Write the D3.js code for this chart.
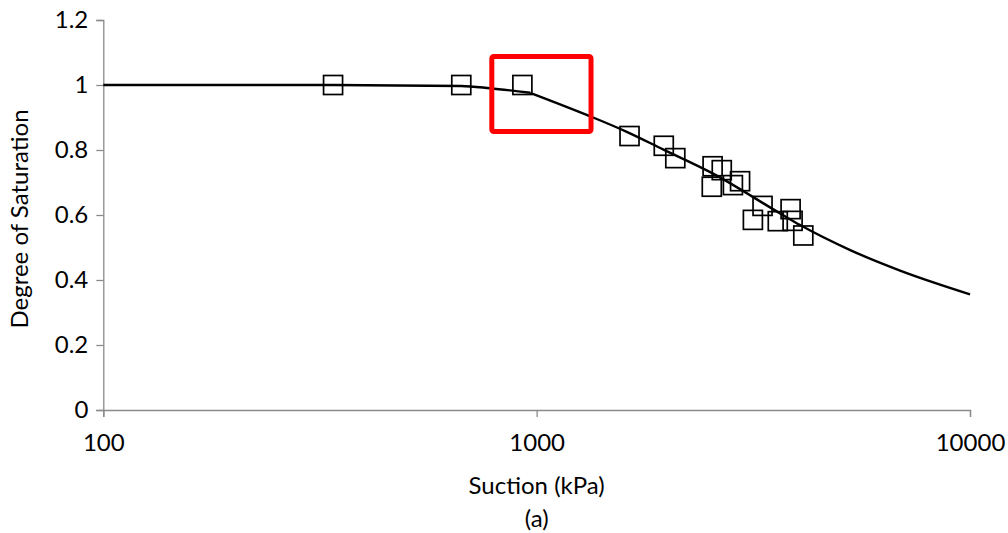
<!DOCTYPE html>
<html>
<head>
<meta charset="utf-8">
<script src="https://cdn.jsdelivr.net/npm/d3@7/dist/d3.min.js"></script>
<style>
  html, body { margin: 0; padding: 0; background: #fff; }
  svg { display: block; }
  text { font-family: Lato, "Open Sans", sans-serif; fill: #000; }
</style>
</head>
<body>
<svg id="chart" width="1008" height="533"></svg>
<script>
// Measured points: suction (kPa) and degree of saturation
const suction    = [339, 670, 927, 1638, 1965, 2089, 2547, 2674, 2947, 2536, 2837, 3321, 3155, 3855, 3601, 3896, 4124];
const saturation = [1.0, 1.0, 1.0, 0.843, 0.813, 0.775, 0.750, 0.738, 0.704, 0.687, 0.692, 0.628, 0.585, 0.618, 0.581, 0.582, 0.537];

// Fitted retention curve, before and after the air-entry break
const fitSuctionLow  = [100, 339, 670, 780, 966];
const fitSatLow      = [1.0, 1.0, 0.997, 0.990, 0.976];
const fitSuctionHigh = [966, 1305, 1614, 1957, 2547, 3645, 4055, 5291, 6896, 10000];
const fitSatHigh     = [0.976, 0.908, 0.856, 0.802, 0.728, 0.605, 0.569, 0.492, 0.429, 0.356];

// Highlight box around the break point (suction range, saturation range)
const boxSuction = [788, 1335];
const boxSat     = [0.857, 1.0877];

// Axis ticks
const xTicks = [100, 1000, 10000];
const xTickLabels = ["100", "1000", "10000"];
const yTicks = [0, 0.2, 0.4, 0.6, 0.8, 1.0, 1.2];
const yTickLabels = ["0", "0.2", "0.4", "0.6", "0.8", "1", "1.2"];

const xTitle = "Suction (kPa)";
const yTitle = "Degree of Saturation";
const caption = "(a)";

const svg = d3.select("#chart");

const x = d3.scaleLog().domain([100, 10000]).range([103.3, 970]);
const y = d3.scaleLinear().domain([0, 1.2]).range([410, 20]);

const axisColor = "#8a8a8a";
const fontSize = 24;

// Y axis
const yAxis = svg.append("g")
  .attr("transform", `translate(${x(100)},0)`)
  .call(d3.axisLeft(y).tickValues(yTicks)
    .tickFormat((d, i) => yTickLabels[i]).tickSize(7).tickPadding(8));
yAxis.select(".domain").attr("stroke", axisColor).attr("stroke-width", 1.3);
yAxis.selectAll(".tick line").attr("stroke", axisColor).attr("stroke-width", 1.3);
yAxis.selectAll(".tick text").attr("font-size", fontSize)
  .attr("font-family", "Lato, sans-serif").attr("fill", "#000");

// X axis
const xAxis = svg.append("g")
  .attr("transform", `translate(0,${y(0)})`)
  .call(d3.axisBottom(x).tickValues(xTicks)
    .tickFormat((d, i) => xTickLabels[i]).tickSize(7).tickPadding(17));
xAxis.select(".domain").attr("stroke", axisColor).attr("stroke-width", 1.3);
xAxis.selectAll(".tick line").attr("stroke", axisColor).attr("stroke-width", 1.3);
xAxis.selectAll(".tick text").attr("font-size", fontSize)
  .attr("font-family", "Lato, sans-serif").attr("fill", "#000");

// Axis titles and caption
svg.append("text")
  .attr("x", (x(100) + x(10000)) / 2).attr("y", 494)
  .attr("text-anchor", "middle").attr("font-size", fontSize)
  .text(xTitle);
svg.append("text")
  .attr("x", (x(100) + x(10000)) / 2).attr("y", 527)
  .attr("text-anchor", "middle").attr("font-size", fontSize)
  .text(caption);
svg.append("text")
  .attr("transform", `translate(28,219) rotate(-90)`)
  .attr("text-anchor", "middle").attr("font-size", fontSize)
  .text(yTitle);

// Fitted curve
const line = d3.line()
  .x(d => x(d[0])).y(d => y(d[1]))
  .curve(d3.curveMonotoneX);
const segments = [
  d3.zip(fitSuctionLow, fitSatLow),
  d3.zip(fitSuctionHigh, fitSatHigh)
];
svg.append("g").selectAll("path")
  .data(segments)
  .join("path")
  .attr("d", line)
  .attr("fill", "none")
  .attr("stroke", "#000")
  .attr("stroke-width", 2.4)
  .attr("stroke-linejoin", "round");

// Measured points as open squares
const size = 19;
svg.append("g").selectAll("rect")
  .data(d3.zip(suction, saturation))
  .join("rect")
  .attr("x", d => x(d[0]) - size / 2)
  .attr("y", d => y(d[1]) - size / 2)
  .attr("width", size).attr("height", size)
  .attr("fill", "none")
  .attr("stroke", "#000")
  .attr("stroke-width", 1.7);

// Highlight box
svg.append("rect")
  .attr("x", x(boxSuction[0]))
  .attr("y", y(boxSat[1]))
  .attr("width", x(boxSuction[1]) - x(boxSuction[0]))
  .attr("height", y(boxSat[0]) - y(boxSat[1]))
  .attr("rx", 2)
  .attr("fill", "none")
  .attr("stroke", "#ff0000")
  .attr("stroke-width", 5);
</script>
</body>
</html>
